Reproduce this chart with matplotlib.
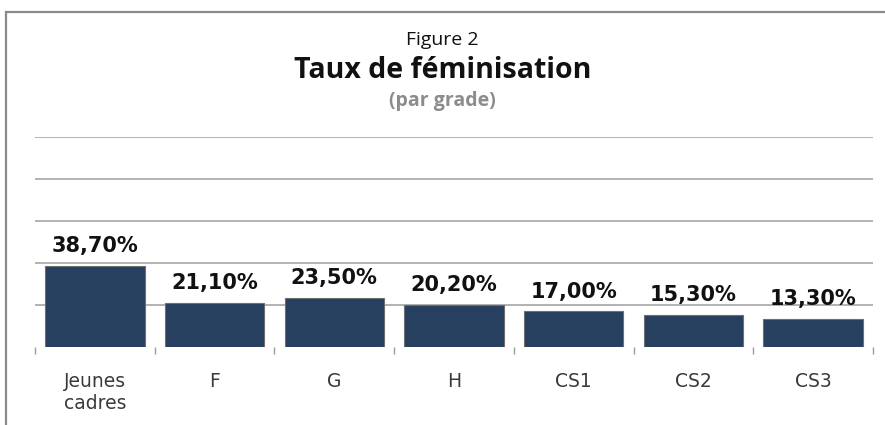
import matplotlib
matplotlib.use("Agg")
import matplotlib.pyplot as plt
from matplotlib.patches import Rectangle

categories = ["Jeunes\ncadres", "F", "G", "H", "CS1", "CS2", "CS3"]
values = [38.7, 21.1, 23.5, 20.2, 17.0, 15.3, 13.3]
value_labels = ["38,70%", "21,10%", "23,50%", "20,20%", "17,00%", "15,30%", "13,30%"]
grid_values = [20, 40, 60, 80, 100]

BAR = "#28405F"
TITLE_FONT = ["Open Sans", "DejaVu Sans"]


def main():
    fig = plt.figure(figsize=(8.85, 4.25), dpi=100)

    # outer frame (only top and left edge visible in the original)
    fig.patches.append(Rectangle((6 / 885, -0.1), 1.2, 1 - 12 / 425 + 0.1,
                                 transform=fig.transFigure, fill=False,
                                 edgecolor="#8a8a8a", linewidth=1.6))

    ax = fig.add_axes([35 / 885, 1 - 347 / 425, (873 - 35) / 885, 210 / 425])
    x = list(range(len(categories)))
    ax.bar(x, values, width=0.83, color=BAR, edgecolor="#6f6f6f",
           linewidth=0.8, zorder=2)
    for xi, v, lab in zip(x, values, value_labels):
        ax.annotate(lab, (xi, v), xytext=(0, 7), textcoords="offset points",
                    ha="center", va="bottom", fontsize=15, fontweight="bold",
                    color="#111111")

    ax.set_xlim(-0.5, len(categories) - 0.5)
    ax.set_ylim(0, 100)
    for g in grid_values:
        ax.axhline(g, color="#a6a6a6", linewidth=1.2, zorder=1)

    ax.set_yticks([])
    ax.set_xticks(x)
    ax.set_xticklabels(categories, fontsize=13.5, color="#3a3a3a",
                       linespacing=1.2)
    ax.tick_params(axis="x", which="major", length=0, pad=18)
    ax.set_xticks([i - 0.5 for i in range(len(categories) + 1)], minor=True)
    ax.tick_params(axis="x", which="minor", length=5, color="#9a9a9a",
                   width=1)
    for s in ax.spines.values():
        s.set_visible(False)

    fig.text(0.5, 1 - 40 / 425, "Figure 2", ha="center", va="center",
             fontsize=14, family=TITLE_FONT, color="#111111")
    fig.text(0.5, 1 - 70 / 425, "Taux de féminisation", ha="center",
             va="center", fontsize=20.5, fontweight="bold", family=TITLE_FONT,
             color="#111111")
    fig.text(0.5, 1 - 101 / 425, "(par grade)", ha="center", va="center",
             fontsize=14, fontweight="bold", family=TITLE_FONT,
             color="#8c8c8c")

    fig.savefig("out.png", dpi=100)
    plt.close(fig)


if __name__ == "__main__":
    main()
